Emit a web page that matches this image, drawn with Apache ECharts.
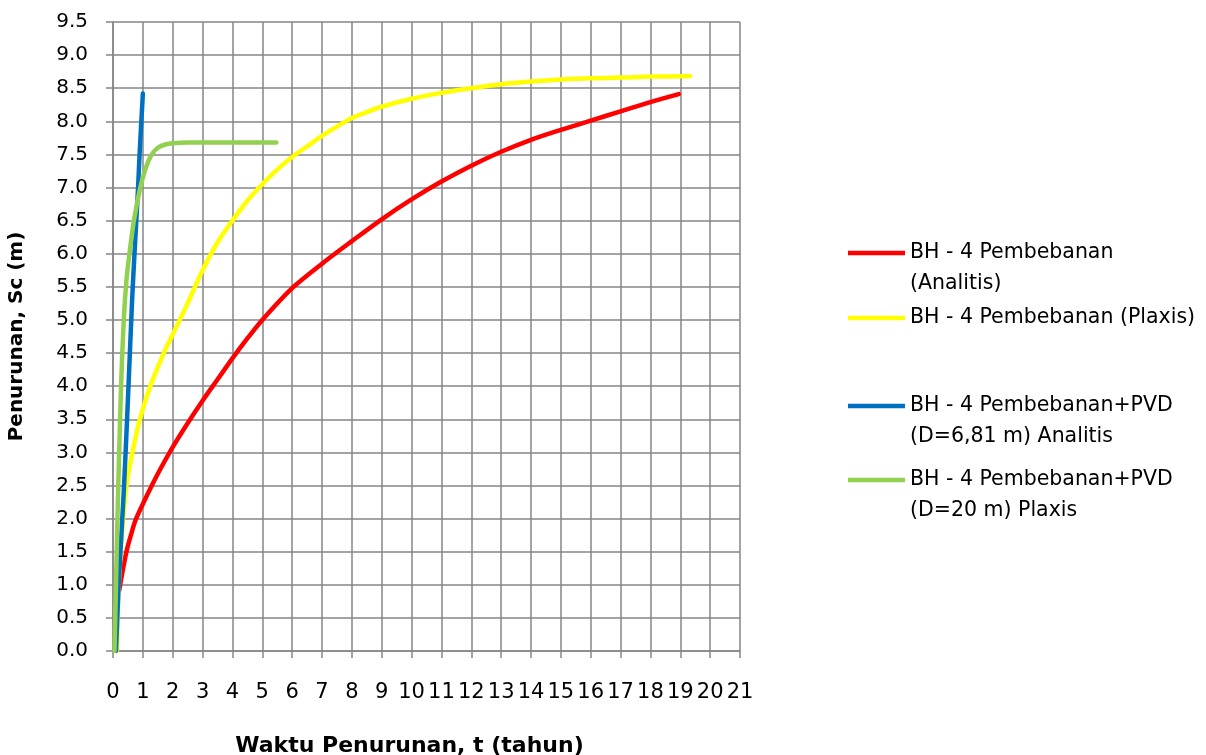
<!DOCTYPE html>
<html>
<head>
<meta charset="utf-8">
<script src="https://cdn.jsdelivr.net/npm/echarts@6/dist/echarts.min.js"></script>
<style>
html,body{margin:0;padding:0;background:#fff;}
#chart{width:1206px;height:755px;}
</style>
</head>
<body>
<div id="chart"></div>
<script>
// Series names
const seriesNames = [
  'BH - 4 Pembebanan (Analitis)',
  'BH - 4 Pembebanan (Plaxis)',
  'BH - 4 Pembebanan+PVD (D=6,81 m) Analitis',
  'BH - 4 Pembebanan+PVD (D=20 m) Plaxis'
];
// Red: BH-4 Pembebanan (Analitis)  [t (tahun), Sc (m)]
const redT  = [0.21, 0.3, 0.45, 0.6, 0.75, 1.0, 1.3, 1.6, 2.0, 2.5, 3.0, 3.5, 4.0, 4.5, 5.0, 6.0, 7.0, 8.0, 9.0, 10, 11, 12, 13, 14, 15, 16, 17, 18, 18.95];
const redS  = [0.92, 1.15, 1.5, 1.75, 1.97, 2.22, 2.5, 2.76, 3.08, 3.44, 3.78, 4.1, 4.42, 4.72, 5.0, 5.48, 5.85, 6.19, 6.52, 6.82, 7.09, 7.33, 7.54, 7.72, 7.87, 8.01, 8.15, 8.29, 8.41];
// Yellow: BH-4 Pembebanan (Plaxis)
const yelT  = [0.13, 0.2, 0.3, 0.45, 0.65, 0.9, 1.25, 1.7, 2.0, 2.5, 3.0, 3.5, 4.0, 4.5, 5.0, 5.5, 6.0, 6.5, 7.0, 7.5, 8.0, 8.5, 9.0, 10, 11, 12, 13, 14, 15, 16, 17, 18, 19, 19.33];
const yelS  = [0.0, 1.05, 1.75, 2.5, 3.0, 3.5, 4.0, 4.5, 4.78, 5.25, 5.75, 6.17, 6.5, 6.8, 7.05, 7.27, 7.46, 7.62, 7.78, 7.92, 8.05, 8.14, 8.22, 8.34, 8.43, 8.5, 8.56, 8.6, 8.63, 8.65, 8.66, 8.675, 8.68, 8.685];
// Blue: BH-4 Pembebanan+PVD (D=6,81 m) Analitis
const bluT  = [0.1, 0.2, 0.36, 0.5, 0.64, 0.72, 0.84, 0.89, 1.0];
const bluS  = [0.0, 1.1, 2.4, 3.8, 5.3, 6.0, 7.0, 7.5, 8.42];
// Green: BH-4 Pembebanan+PVD (D=20 m) Plaxis
const grnT  = [0.05, 0.1, 0.15, 0.2, 0.27, 0.36, 0.45, 0.55, 0.7, 0.9, 1.1, 1.3, 1.5, 1.75, 2.0, 2.5, 3.0, 4.0, 5.47];
const grnS  = [0.0, 1.0, 2.0, 2.9, 4.0, 5.0, 5.6, 6.0, 6.5, 6.97, 7.3, 7.5, 7.6, 7.65, 7.67, 7.68, 7.68, 7.68, 7.68];
// Axis ticks
const xTicks = [0,1,2,3,4,5,6,7,8,9,10,11,12,13,14,15,16,17,18,19,20,21];
const yTicks = [0.0,0.5,1.0,1.5,2.0,2.5,3.0,3.5,4.0,4.5,5.0,5.5,6.0,6.5,7.0,7.5,8.0,8.5,9.0,9.5];
const legendLabels = [
  'BH - 4 Pembebanan\n(Analitis)',
  'BH - 4 Pembebanan (Plaxis)',
  'BH - 4 Pembebanan+PVD\n(D=6,81 m) Analitis',
  'BH - 4 Pembebanan+PVD\n(D=20 m) Plaxis'
];
const colors = ['#FF0000', '#FFFF00', '#0070C0', '#92D050'];

function zip(a, b) { return a.map((v, i) => [v, b[i]]); }
const allData = [zip(redT, redS), zip(yelT, yelS), zip(bluT, bluS), zip(grnT, grnS)];

const FONT = 'DejaVu Sans';
const LH = 31;
const legendIconY = [253, 318, 406, 480];

const legends = seriesNames.map((n, i) => {
  const twoLine = legendLabels[i].indexOf('\n') >= 0;
  return {
    show: true,
    orient: 'vertical',
    left: 848,
    top: twoLine ? legendIconY[i] - LH * 1.5 : legendIconY[i] - LH / 2,
    itemWidth: 57,
    itemHeight: 14,
    padding: 0,
    selectedMode: false,
    data: [{ name: n, icon: 'path://M0,0L57,0L57,4.5L0,4.5Z' }],
    formatter: () => (twoLine ? ' \n' : '') + legendLabels[i],
    textStyle: { fontFamily: FONT, fontSize: 20.5, color: '#000', lineHeight: LH }
  };
});

const chart = echarts.init(document.getElementById('chart'), null, { renderer: 'canvas' });
chart.setOption({
  backgroundColor: '#fff',
  animation: false,
  color: colors,
  legend: legends,
  grid: { left: 113, top: 22, width: 627, height: 629, containLabel: false, outerBoundsMode: 'none' },
  xAxis: {
    type: 'value', min: xTicks[0], max: xTicks[xTicks.length - 1], interval: 1,
    name: 'Waktu Penurunan, t (tahun)', nameLocation: 'middle', nameGap: 84,
    nameTextStyle: { fontFamily: FONT, fontSize: 22, fontWeight: 'bold', color: '#000', padding: [0, 34, 0, 0] },
    axisLine: { show: true, onZero: false, lineStyle: { color: '#868686', width: 1.5 } },
    axisTick: { show: true, length: 7, lineStyle: { color: '#868686', width: 1.5 } },
    axisLabel: { margin: 31, fontFamily: FONT, fontSize: 21, color: '#000' },
    splitLine: { show: true, lineStyle: { color: '#868686', width: 1.5 } }
  },
  yAxis: {
    type: 'value', min: yTicks[0], max: yTicks[yTicks.length - 1], interval: 0.5,
    name: 'Penurunan, Sc (m)', nameLocation: 'middle', nameGap: 86, nameRotate: 90,
    nameTextStyle: { fontFamily: FONT, fontSize: 20, fontWeight: 'bold', color: '#000' },
    axisLine: { show: true, onZero: false, lineStyle: { color: '#868686', width: 1.5 } },
    axisTick: { show: true, length: 7, lineStyle: { color: '#868686', width: 1.5 } },
    axisLabel: { margin: 25, fontFamily: FONT, fontSize: 20, color: '#000', formatter: v => v.toFixed(1) },
    splitLine: { show: true, lineStyle: { color: '#868686', width: 1.5 } }
  },
  series: allData.map((d, i) => ({
    name: seriesNames[i],
    type: 'line',
    data: d,
    showSymbol: false,
    symbol: 'none',
    smooth: 0.3,
    lineStyle: { color: colors[i], width: 4.5, cap: 'round', join: 'round' },
    z: 2 + i
  }))
});
</script>
</body>
</html>
